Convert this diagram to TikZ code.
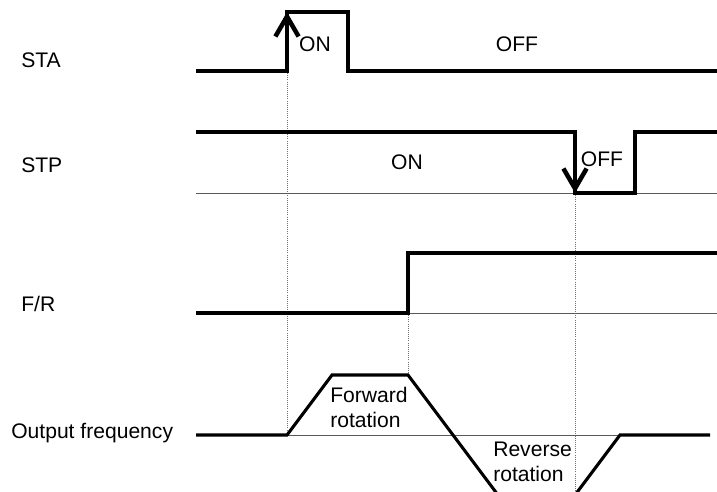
\documentclass[tikz,border=0pt]{standalone}
\usepackage{fontspec}
\setmainfont{Liberation Sans}
\usetikzlibrary{arrows.meta}

\begin{document}
\begin{tikzpicture}[
    x=0.025cm, y=-0.025cm,
    wave/.style={line width=2.2pt, black},
    base/.style={line width=0.7pt, black!65},
    guide/.style={line width=0.5pt, black!55, densely dotted},
    edgearrow/.style={wave, -{Straight Barb[length=5mm, width=5.8mm, line width=3.2pt]}},
    sig/.style={anchor=west, inner sep=0pt, font=\fontsize{15}{17.8}\selectfont},
    state/.style={inner sep=0pt, font=\fontsize{15}{17.8}\selectfont},
    rot/.style={anchor=north west, inner sep=0pt, align=left, font=\fontsize{15}{17.8}\selectfont}
  ]
  \clip (0,0) rectangle (717,492);

  \node[sig] (sta) at (21,60) {STA};
  \node[sig] (stp) at (21,165) {STP};
  \node[sig] (fr) at (21,304) {F/R};
  \node[sig] (out) at (11,433) {Output frequency};

  \coordinate (staon) at (287,71);
  \coordinate (stpoff) at (575,193);
  \coordinate (frup) at (408,313);
  \coordinate (fwdtop) at (408,375);
  \coordinate (outup) at (287,435);
  \coordinate (outbot) at (575,492);

  \draw[guide] (staon) -- (outup);
  \draw[guide] (frup) -- (fwdtop);
  \draw[guide] (stpoff) -- (outbot);

  \draw[base] (196,193) -- (717,193);
  \draw[base] (196,313) -- (717,313);
  \draw[base] (196,435) -- (710,435);

  \draw[wave] (196,71) -- (staon) -- (287,12) -- (348,12) -- (348,71) -- (717,71);
  \draw[edgearrow] (staon) -- (287,12);
  \draw[wave] (196,132) -- (575,132) -- (stpoff) -- (635,193) -- (635,132) -- (717,132);
  \draw[edgearrow] (575,132) -- (stpoff);
  \draw[wave] (196,313) -- (frup) -- (408,253) -- (717,253);
  \draw[wave] (196,435) -- (outup) -- (332,375) -- (fwdtop) -- (498,495)
    -- (575,495) -- (620,435) -- (710,435);

  \node[state] (staonlbl) at (315,44) {ON};
  \node[state] (staofflbl) at (517,44) {OFF};
  \node[state] (stponlbl) at (407,162) {ON};
  \node[state] (stpofflbl) at (602,159) {OFF};
  \node[rot] (fwd) at (330,387) {Forward\\rotation};
  \node[rot] (rev) at (493,442) {Reverse\\rotation};
\end{tikzpicture}
\end{document}
